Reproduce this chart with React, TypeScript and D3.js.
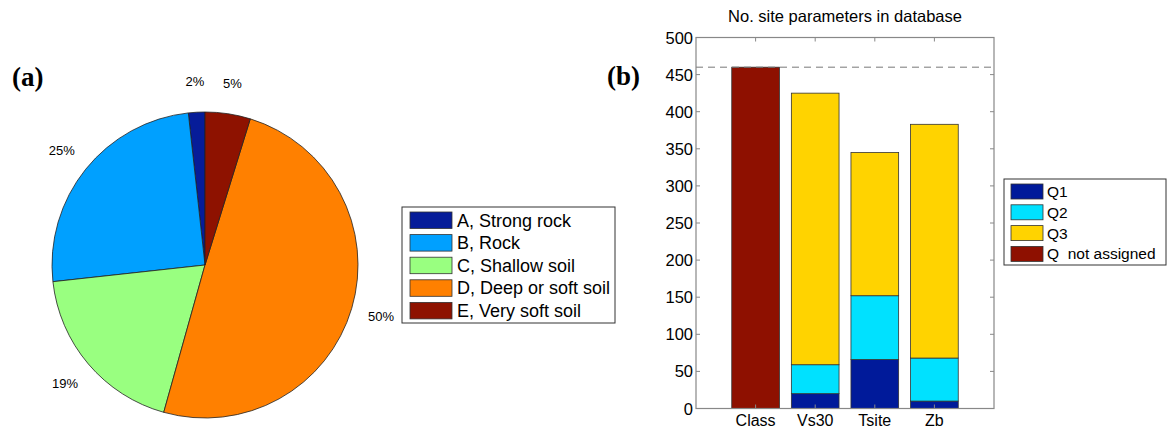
import * as d3 from 'd3'

// (a) site class distribution
const classLabels = ['A, Strong rock', 'B, Rock', 'C, Shallow soil', 'D, Deep or soft soil', 'E, Very soft soil']
const classCounts = [8, 115, 87, 228, 22]
const classColors = ['#061c99', '#00a0ff', '#99ff80', '#ff8000', '#8e1200']

// (b) number of site parameters
const params = ['Class', 'Vs30', 'Tsite', 'Zb']
const q1 = [0, 20, 66, 10]
const q2 = [0, 39, 86, 58]
const q3 = [0, 366, 193, 315]
const qNone = [460, 0, 0, 0]
const totalSites = 460
const qLabels = ['Q1', 'Q2', 'Q3', 'Q\u00a0\u00a0not assigned']
const qColors = ['#001a9a', '#00e1ff', '#ffd300', '#8e1000']
const yTicks = d3.range(0, 501, 50)

const FONT = '"Liberation Sans", Arial, sans-serif'

const App = () => {
  // pie
  const cx = 205, cy = 265, r = 153
  const total = d3.sum(classCounts)
  const pie = d3.pie<number>().sort(null).startAngle(0).endAngle(-2 * Math.PI)
  const slices = pie(classCounts)
  const arc = d3.arc<d3.PieArcDatum<number>>().innerRadius(0).outerRadius(r)
  const labelArc = d3.arc<d3.PieArcDatum<number>>().innerRadius(r * 1.2).outerRadius(r * 1.2)

  // bars
  const ax = { left: 696, right: 994, top: 37.5, bottom: 408.5 }
  const x = d3.scaleLinear().domain([0, 5]).range([ax.left, ax.right])
  const y = d3.scaleLinear().domain([0, 500]).range([ax.bottom, ax.top])
  const barW = x(0.8) - x(0)
  const stacks = params.map((p, i) => {
    const vals = [q1[i], q2[i], q3[i], qNone[i]]
    let acc = 0
    return vals.map((v, k) => {
      const s = { p, i, k, y0: acc, y1: acc + v }
      acc += v
      return s
    }).filter(s => s.y1 > s.y0)
  })

  return (
    <svg width={1168} height={428} style={{ position: 'absolute', left: 0, top: 0, background: '#fff' }}>
      {/* panel a */}
      <text x={12} y={86} fontFamily='"Liberation Serif", "Times New Roman", serif' fontWeight="bold" fontSize={27}>(a)</text>
      <g transform={`translate(${cx},${cy})`}>
        {slices.map((s, i) => (
          <path key={i} d={arc(s) || ''} fill={classColors[i]} stroke="#222" strokeWidth={0.8} />
        ))}
        {slices.map((s, i) => {
          const [lx, ly] = labelArc.centroid(s)
          return (
            <text key={i} x={lx} y={ly} textAnchor="middle" dominantBaseline="central"
              fontFamily={FONT} fontSize={13}>
              {Math.round((classCounts[i] / total) * 100)}%
            </text>
          )
        })}
      </g>
      <g>
        <rect x={402} y={207} width={213} height={116} fill="#fff" stroke="#333" strokeWidth={1} />
        {classLabels.map((l, i) => (
          <g key={l} transform={`translate(0,${212 + i * 22.6})`}>
            <rect x={410} y={0} width={42} height={16.5} fill={classColors[i]} stroke="#333" strokeWidth={0.8} />
            <text x={457} y={8.5} dominantBaseline="central" fontFamily={FONT} fontSize={18}>{l}</text>
          </g>
        ))}
      </g>

      {/* panel b */}
      <text x={607} y={85} fontFamily='"Liberation Serif", "Times New Roman", serif' fontWeight="bold" fontSize={27}>(b)</text>
      <text x={(ax.left + ax.right) / 2} y={22} textAnchor="middle" fontFamily={FONT} fontSize={16.5}>
        No. site parameters in database
      </text>
      {stacks.flat().map(s => (
        <rect key={`${s.p}-${s.k}`} x={x(s.i + 1) - barW / 2} y={y(s.y1)} width={barW}
          height={y(s.y0) - y(s.y1)} fill={qColors[s.k]} stroke="#333" strokeWidth={0.8} />
      ))}
      <line x1={ax.left} x2={ax.right} y1={y(totalSites)} y2={y(totalSites)} stroke="#777" strokeWidth={1} strokeDasharray="7,5" />
      <rect x={ax.left} y={ax.top} width={ax.right - ax.left} height={ax.bottom - ax.top} fill="none" stroke="#888" strokeWidth={1.2} />
      {yTicks.map(t => (
        <g key={t}>
          <line x1={ax.left} x2={ax.left + 4} y1={y(t)} y2={y(t)} stroke="#888" />
          <line x1={ax.right} x2={ax.right - 4} y1={y(t)} y2={y(t)} stroke="#888" />
          <text x={ax.left - 3} y={y(t)} textAnchor="end" dominantBaseline="central" fontFamily={FONT} fontSize={16.5}>{t}</text>
        </g>
      ))}
      {params.map((p, i) => (
        <g key={p}>
          <line x1={x(i + 1)} x2={x(i + 1)} y1={ax.top} y2={ax.top + 4} stroke="#888" />
          <line x1={x(i + 1)} x2={x(i + 1)} y1={ax.bottom} y2={ax.bottom - 4} stroke="#888" />
          <text x={x(i + 1)} y={ax.bottom + 12} textAnchor="middle" dominantBaseline="central" fontFamily={FONT} fontSize={16}>{p}</text>
        </g>
      ))}
      <g>
        <rect x={1004} y={179} width={162} height={86} fill="#fff" stroke="#333" strokeWidth={1} />
        {qLabels.map((l, i) => (
          <g key={l} transform={`translate(0,${184 + i * 20.8})`}>
            <rect x={1011} y={0} width={32} height={15} fill={qColors[i]} stroke="#333" strokeWidth={0.8} />
            <text x={1047} y={7.5} dominantBaseline="central" fontFamily={FONT} fontSize={15.5}>{l}</text>
          </g>
        ))}
      </g>
    </svg>
  )
}

export default App
